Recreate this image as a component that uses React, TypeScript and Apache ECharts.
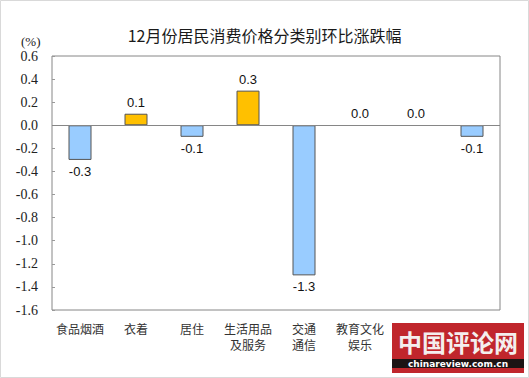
import React, { useEffect, useRef } from "react";
import * as echarts from "echarts";

const categories = ["食品烟酒", "衣着", "居住", "生活用品\n及服务", "交通\n通信", "教育文化\n娱乐", "医疗保健", "其他用品\n及服务"];
const values = [-0.3, 0.1, -0.1, 0.3, -1.3, 0.0, 0.0, -0.1];
const titleText = "12月份居民消费价格分类别环比涨跌幅";
const unitText = "(%)";

export default function App() {
  const ref = useRef<HTMLDivElement>(null);
  useEffect(() => {
    if (!ref.current) return;
    const chart = echarts.init(ref.current, null, { renderer: "svg" });
    chart.setOption({
      animation: false,
      backgroundColor: "#ffffff",
      title: {
        text: titleText,
        left: "center",
        top: 22,
        textStyle: { fontFamily: "Noto Sans CJK SC", fontSize: 16, fontWeight: "normal", color: "#1a1a1a" },
      },
      grid: { left: 52, right: 29, top: 56, bottom: 68, show: true, borderColor: "#868686", borderWidth: 1 },
      xAxis: {
        type: "category",
        data: categories,
        axisLine: { show: false },
        axisTick: { show: false },
        axisLabel: {
          interval: 0,
          margin: 10,
          fontFamily: "Noto Sans CJK SC",
          fontSize: 12,
          lineHeight: 16,
          color: "#333",
          verticalAlign: "top",
        },
      },
      yAxis: {
        type: "value",
        min: -1.6,
        max: 0.6,
        interval: 0.2,
        axisLine: { show: false },
        axisTick: { show: true, inside: true, length: 3, lineStyle: { color: "#999" } },
        splitLine: { show: false },
        axisLabel: {
          margin: 14,
          fontFamily: "Liberation Serif",
          fontSize: 14,
          color: "#222",
          formatter: (v: number) => v.toFixed(1),
        },
      },
      series: [
        {
          type: "bar",
          barWidth: 23,
          data: values.map((v) => ({
            value: v,
            itemStyle: {
              color: v > 0 ? "#FFC000" : "#99CCFF",
              borderColor: "#555555",
              borderWidth: v === 0 ? 0 : 1,
            },
            label: {
              show: true,
              position: v < 0 ? "bottom" : "top",
              distance: 5,
              formatter: () => v.toFixed(1),
              fontFamily: "Liberation Sans",
              fontSize: 13,
              color: "#111",
            },
          })),
          markLine: {
            silent: true,
            symbol: "none",
            label: { show: false },
            lineStyle: { color: "#868686", type: "solid", width: 1 },
            data: [{ yAxis: 0 }],
          },
        },
      ],
      graphic: [
        {
          type: "rect",
          shape: { x: 0.5, y: 0.5, width: 528, height: 377 },
          style: { fill: "none", stroke: "#d9d9d9", lineWidth: 1 },
          z: 0,
        },
        {
          type: "text",
          left: 21,
          top: 35,
          style: { text: unitText, fontFamily: "Liberation Serif", fontSize: 13, fill: "#222" },
        },
        {
          type: "group",
          z: 100,
          children: [
            { type: "rect", shape: { x: 392, y: 323, width: 132, height: 50 }, style: { fill: "#c0262c" }, z: 100 },
            { type: "rect", shape: { x: 392, y: 359, width: 132, height: 9 }, style: { fill: "#1c1414" }, z: 101 },
            {
              type: "text",
              x: 458,
              y: 341,
              z: 102,
              style: {
                text: "中国评论网",
                fontFamily: "Noto Sans CJK SC",
                fontWeight: "bold",
                fontSize: 24,
                fill: "#f4eeee",
                align: "center",
                verticalAlign: "middle",
              },
            },
            {
              type: "text",
              x: 458,
              y: 364,
              z: 102,
              style: {
                text: "chinareview.com.cn",
                fontFamily: "DejaVu Sans",
                fontWeight: "bold",
                fontSize: 9,
                fill: "#ffffff",
                align: "center",
                verticalAlign: "middle",
              },
            },
          ],
        },
      ],
    });
    return () => chart.dispose();
  }, []);
  return <div ref={ref} style={{ width: 529, height: 378, position: "absolute", left: 0, top: 0 }} />;
}
